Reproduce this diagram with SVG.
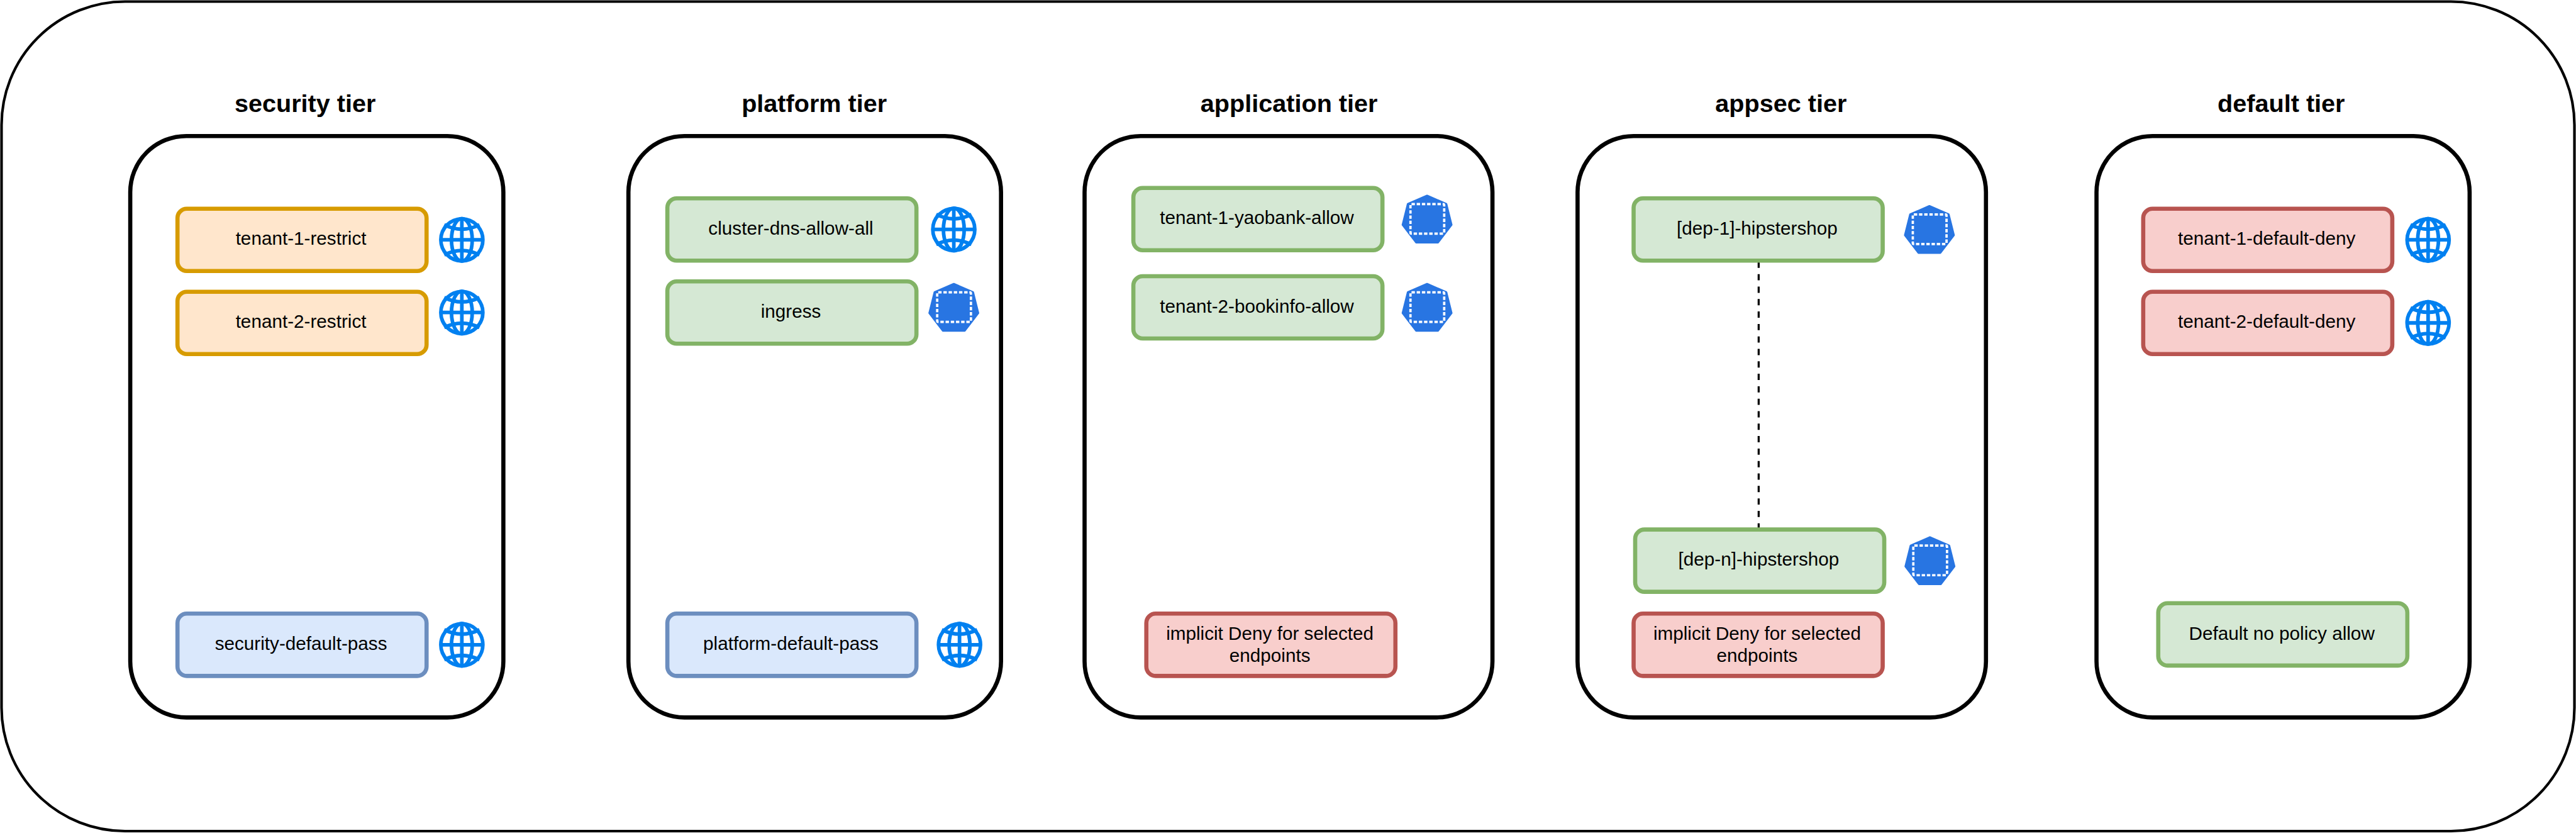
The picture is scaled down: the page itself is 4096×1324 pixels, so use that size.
<svg xmlns="http://www.w3.org/2000/svg" xmlns:xlink="http://www.w3.org/1999/xlink" width="4096" height="1324" viewBox="0 0 4096 1324">
<style>
text{font-family:"Liberation Sans",Arial,sans-serif;fill:#000;text-anchor:middle}
.title{font-size:48px;font-weight:bold}
.label{font-size:36px}
.outer{fill:#fff;stroke:#000;stroke-width:5}
.tier{fill:#fff;stroke:#000;stroke-width:8}
.n{stroke-width:8}
.orange{fill:#ffe6cc;stroke:#d79b00}
.green{fill:#d5e8d4;stroke:#82b366}
.blue{fill:#dae8fc;stroke:#6c8ebf}
.red{fill:#f8cecc;stroke:#b85450}
.conn{fill:none;stroke:#000;stroke-width:4;stroke-dasharray:12 12}
</style>
<defs>
<g id="globe" fill="none" stroke="#0080f0" stroke-width="7">
<circle r="40.5" fill="#fff"/>
<path d="M-41 0H41M0-41V41"/>
<ellipse rx="20" ry="41"/>
<path d="M-34-29Q0-12 34-29M-34 29Q0 12 34 29"/>
</g>
<g id="hept">
<polygon points="0,2 37,18 47,58 21,92 -21,92 -47,58 -37,18" fill="#2875e2" stroke="#2875e2" stroke-width="4" stroke-linejoin="round"/>
<rect x="-32" y="18" width="65" height="57" rx="2" fill="none" stroke="#fff" stroke-width="4.5" stroke-dasharray="6.5 3.5"/>
</g>
</defs>
<g transform="scale(0.82514)">
<rect id="canvas" class="outer" x="3" y="3" width="4958" height="1598" rx="238" ry="238"/>

<g id="security-tier">
<text class="title" x="588" y="216">security tier</text>
<rect class="tier" x="251" y="262" width="719" height="1120" rx="108" ry="108"/>
</g>
<g id="platform-tier">
<text class="title" x="1569" y="216">platform tier</text>
<rect class="tier" x="1211" y="262" width="718" height="1120" rx="108" ry="108"/>
</g>
<g id="application-tier">
<text class="title" x="2484" y="216">application tier</text>
<rect class="tier" x="2090" y="262" width="786" height="1120" rx="108" ry="108"/>
</g>
<g id="appsec-tier">
<text class="title" x="3432" y="216">appsec tier</text>
<rect class="tier" x="3040" y="262" width="787" height="1120" rx="108" ry="108"/>
</g>
<g id="default-tier">
<text class="title" x="4396" y="216">default tier</text>
<rect class="tier" x="4040" y="262" width="719" height="1120" rx="108" ry="108"/>
</g>

<g id="connectors">
<line class="conn" x1="3389" y1="504" x2="3389" y2="1020"/>
</g>

<g id="tenant-1-restrict"><rect class="n orange" x="342" y="402" width="480" height="120" rx="18"/><text class="label" x="580" y="472">tenant-1-restrict</text><use xlink:href="#globe" href="#globe" x="890" y="462"/></g>
<g id="tenant-2-restrict"><rect class="n orange" x="342" y="562" width="480" height="120" rx="18"/><text class="label" x="580" y="632">tenant-2-restrict</text><use xlink:href="#globe" href="#globe" x="890" y="602"/></g>
<g id="security-default-pass"><rect class="n blue" x="342" y="1182" width="480" height="120" rx="18"/><text class="label" x="580" y="1252">security-default-pass</text><use xlink:href="#globe" href="#globe" x="890" y="1242"/></g>

<g id="cluster-dns-allow-all"><rect class="n green" x="1286" y="382" width="480" height="120" rx="18"/><text class="label" x="1524" y="452">cluster-dns-allow-all</text><use xlink:href="#globe" href="#globe" x="1838" y="442"/></g>
<g id="ingress"><rect class="n green" x="1286" y="542" width="480" height="120" rx="18"/><text class="label" x="1524" y="612">ingress</text><use xlink:href="#hept" href="#hept" x="1838" y="545"/></g>
<g id="platform-default-pass"><rect class="n blue" x="1286" y="1182" width="480" height="120" rx="18"/><text class="label" x="1524" y="1252">platform-default-pass</text><use xlink:href="#globe" href="#globe" x="1849" y="1242"/></g>

<g id="tenant-1-yaobank-allow"><rect class="n green" x="2184" y="362" width="480" height="120" rx="18"/><text class="label" x="2422" y="432">tenant-1-yaobank-allow</text><use xlink:href="#hept" href="#hept" x="2750" y="375"/></g>
<g id="tenant-2-bookinfo-allow"><rect class="n green" x="2184" y="532" width="480" height="120" rx="18"/><text class="label" x="2422" y="602">tenant-2-bookinfo-allow</text><use xlink:href="#hept" href="#hept" x="2750" y="545"/></g>
<g id="app-implicit-deny"><rect class="n red" x="2209" y="1182" width="480" height="120" rx="18"/><text class="label" x="2447" y="1232">implicit Deny for selected</text><text class="label" x="2447" y="1275">endpoints</text></g>

<g id="dep-1-hipstershop"><rect class="n green" x="3148" y="382" width="480" height="120" rx="18"/><text class="label" x="3386" y="452">[dep-1]-hipstershop</text><use xlink:href="#hept" href="#hept" x="3718" y="395"/></g>
<g id="dep-n-hipstershop"><rect class="n green" x="3151" y="1020" width="480" height="120" rx="18"/><text class="label" x="3389" y="1090">[dep-n]-hipstershop</text><use xlink:href="#hept" href="#hept" x="3719" y="1033"/></g>
<g id="appsec-implicit-deny"><rect class="n red" x="3148" y="1182" width="480" height="120" rx="18"/><text class="label" x="3386" y="1232">implicit Deny for selected</text><text class="label" x="3386" y="1275">endpoints</text></g>

<g id="tenant-1-default-deny"><rect class="n red" x="4130" y="402" width="480" height="120" rx="18"/><text class="label" x="4368" y="472">tenant-1-default-deny</text><use xlink:href="#globe" href="#globe" x="4679" y="462"/></g>
<g id="tenant-2-default-deny"><rect class="n red" x="4130" y="562" width="480" height="120" rx="18"/><text class="label" x="4368" y="632">tenant-2-default-deny</text><use xlink:href="#globe" href="#globe" x="4679" y="622"/></g>
<g id="default-no-policy-allow"><rect class="n green" x="4159" y="1162" width="480" height="120" rx="18"/><text class="label" x="4397" y="1232">Default no policy allow</text></g>
</g>
</svg>
